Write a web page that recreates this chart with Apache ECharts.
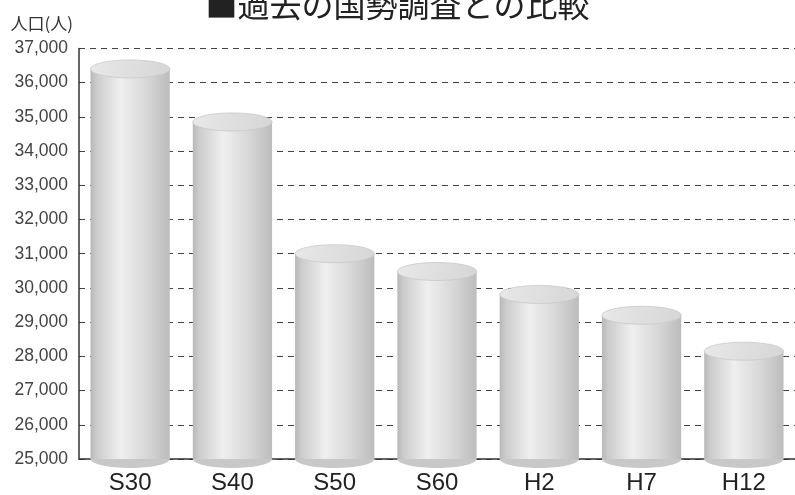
<!DOCTYPE html>
<html><head><meta charset="utf-8">
<script src="https://cdn.jsdelivr.net/npm/echarts@6/dist/echarts.min.js"></script>
<style>html,body{margin:0;padding:0;background:#fff}#c{width:795px;height:495px}</style>
</head><body><div id="c"></div>
<script>
var categories = ['S30','S40','S50','S60','H2','H7','H12'];
var population = [36400, 34850, 31000, 30480, 29810, 29200, 28150];
var yTicks = {min: 25000, max: 37000, step: 1000};
var titleText = '■過去の国勢調査との比較';
var yName = '人口(人)';

var chart = echarts.init(document.getElementById('c'), null, {renderer:'canvas'});
function fmt(v){ return String(v).replace(/\B(?=(\d{3})+(?!\d))/g, ','); }
var bodyGrad = new echarts.graphic.LinearGradient(0,0,1,0,[
  {offset:0,color:'#b8b8b8'},{offset:0.08,color:'#cccccc'},{offset:0.38,color:'#efefef'},
  {offset:0.7,color:'#d8d8d8'},{offset:1,color:'#bcbcbc'}]);
var topGrad = new echarts.graphic.LinearGradient(0,0,1,1,[
  {offset:0,color:'#e8e8e8'},{offset:1,color:'#d6d6d6'}]);
var seriesData = categories.map(function(c,i){ return [c, population[i]]; });
chart.setOption({
  animation:false,
  title:{text:titleText,left:'center',top:-16,textStyle:{fontSize:32,fontWeight:'normal',color:'#222',fontFamily:'Noto Sans CJK JP'}},
  grid:{left:79,right:0,top:48.4,bottom:35},
  xAxis:{type:'category',data:categories,
    axisLine:{lineStyle:{color:'#333',width:1.5}},axisTick:{show:false},
    axisLabel:{fontSize:24,color:'#222',margin:12,fontFamily:'Liberation Sans'}},
  yAxis:{type:'value',min:yTicks.min,max:yTicks.max,interval:yTicks.step,
    name:yName,nameLocation:'end',nameGap:16,
    nameTextStyle:{fontSize:17,color:'#333',align:'right',padding:[0,6,0,0],fontFamily:'Noto Sans CJK JP'},
    axisLine:{show:true,lineStyle:{color:'#333',width:1.5}},axisTick:{show:false},
    axisLabel:{fontSize:17.5,color:'#444',margin:11,formatter:fmt,fontFamily:'Liberation Sans'},
    splitLine:{lineStyle:{color:'#444',type:[6,5],width:1.2}}},
  series:[{type:'custom',data:seriesData,encode:{x:0,y:1},clip:false,z:1,
    renderItem:function(params,api){
      var i=params.dataIndex;
      var top=api.coord([i,api.value(1)]);
      var base=api.coord([i,yTicks.min]);
      var w=api.size([1,0])[0]*0.775;
      var x=top[0]-w/2, rx=w/2, ry=9;
      return {type:'group',children:[
        {type:'ellipse',shape:{cx:top[0],cy:base[1],rx:rx,ry:ry},style:{fill:'#c8c8c8'}},
        {type:'rect',shape:{x:x,y:top[1],width:w,height:base[1]-top[1]},style:{fill:bodyGrad}},
        {type:'ellipse',shape:{cx:top[0],cy:top[1],rx:rx,ry:ry},style:{fill:topGrad,stroke:'#c8c8c8',lineWidth:0.8}}
      ]};
    }}]
});
</script></body></html>
